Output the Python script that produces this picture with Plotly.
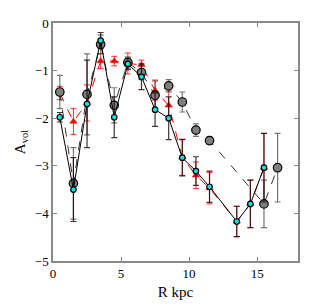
import plotly.graph_objects as go

# Gray circles series (dashed black line)
gray_r = [0.5, 1.5, 2.5, 3.5, 4.5, 5.5, 6.5, 7.5, 8.5, 9.5, 10.5, 11.5, 15.5, 16.5]
gray_a = [-1.45, -3.37, -1.5, -0.45, -1.73, -0.83, -1.04, -1.52, -1.32, -1.66, -2.25, -2.47, -3.8, -3.04]
gray_e = [0.35, 0.75, 0.85, 0.2, 0.37, 0.12, 0.15, 0.32, 0.13, 0.21, 0.13, 0.08, 0.5, 0.72]

# Cyan series (solid black line)
cyan_r = [0.5, 1.5, 2.5, 3.5, 4.5, 5.5, 6.5, 7.5, 8.5, 9.5, 10.5, 11.5, 13.5, 14.5, 15.5]
cyan_a = [-1.98, -3.5, -1.7, -0.37, -1.98, -0.86, -1.13, -1.82, -2.0, -2.83, -3.11, -3.44, -4.17, -3.8, -3.04]
cyan_e = [0.1, 0.67, 0.92, 0.17, 0.43, 0.12, 0.27, 0.35, 0.45, 0.38, 0.3, 0.33, 0.32, 0.5, 0.72]

# Red triangles series (dashed red line)
red_r = [0.5, 1.5, 2.5, 3.5, 4.5, 5.5, 6.5, 7.5, 8.5, 9.5, 10.5, 11.5, 13.5, 14.5, 15.5]
red_a = [-1.47, -2.07, -1.68, -0.8, -0.8, -0.85, -0.88, -1.42, -1.73, -2.82, -3.2, -3.47, -4.17, -3.8, -3.04]
red_e = [0.14, 0.27, 0.38, 0.16, 0.1, 0.22, 0.1, 0.2, 0.3, 0.38, 0.28, 0.33, 0.32, 0.5, 0.72]

fig = go.Figure()
fig.add_trace(go.Scatter(
    x=red_r, y=red_a, mode="lines+markers",
    line=dict(color="red", width=1, dash="dash"),
    marker=dict(symbol="triangle-up", size=6.5, color="red", line=dict(color="red", width=0.5)),
    error_y=dict(type="data", array=red_e, color="rgba(255,0,0,0.8)", thickness=1, width=3),
    showlegend=False))
fig.add_trace(go.Scatter(
    x=gray_r, y=gray_a, mode="lines+markers",
    line=dict(color="black", width=0.8, dash="dash"),
    marker=dict(symbol="circle", size=8.5, color="#7f7f7f", line=dict(color="black", width=1.2)),
    error_y=dict(type="data", array=gray_e, color="rgba(70,70,70,0.75)", thickness=1.2, width=3),
    showlegend=False))
fig.add_trace(go.Scatter(
    x=cyan_r, y=cyan_a, mode="lines+markers",
    line=dict(color="black", width=1),
    marker=dict(symbol="circle", size=5.5, color="#00e5e5", line=dict(color="black", width=1.2)),
    error_y=dict(type="data", array=cyan_e, color="rgba(20,0,0,0.8)", thickness=1.2, width=3),
    showlegend=False))

font = "Liberation Serif, DejaVu Serif, serif"
axis_common = dict(showgrid=False, zeroline=False, showline=True, linecolor="#888",
                   linewidth=1.5, mirror="ticks", ticks="inside", ticklen=4,
                   tickcolor="#888", tickfont=dict(family=font, size=13, color="black"))
fig.update_xaxes(range=[0, 18], tickvals=[0, 5, 10, 15], ticktext=["0", "5", "10", "15"],
                 title=dict(text="R kpc", font=dict(family=font, size=15, color="black"), standoff=6),
                 **axis_common)
fig.update_yaxes(range=[-5, 0], tickvals=[-5, -4, -3, -2, -1, 0],
                 ticktext=["−5", "−4", "−3", "−2", "−1", "0"],
                 title=dict(text="A<sub>vol</sub>", font=dict(family=font, size=15, color="black"), standoff=6),
                 **axis_common)
fig.update_layout(width=319, height=298, margin=dict(l=45, r=29, t=8, b=45),
                  plot_bgcolor="white", paper_bgcolor="white")
fig.write_html("out.html")
